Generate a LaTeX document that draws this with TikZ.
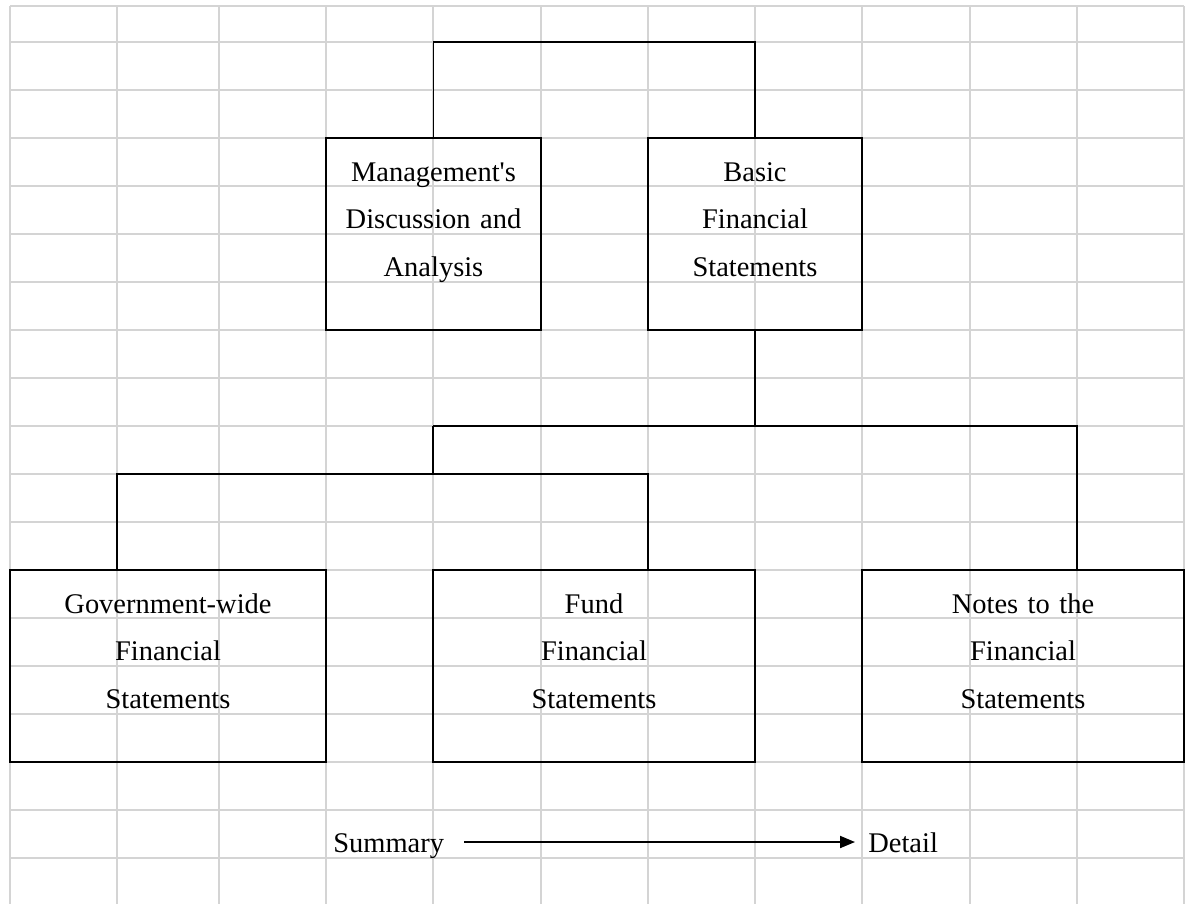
\documentclass[tikz,border=0pt]{standalone}
\usepackage{fontspec}
\setmainfont{Liberation Serif}[Ligatures=TeXOff]
\usetikzlibrary{positioning,arrows.meta,calc}
\definecolor{sheetgray}{RGB}{212,212,212}

\begin{document}
\begin{tikzpicture}[
x=0.02cm,y=-0.02cm,
boxnode/.style={draw,line width=1.1pt,inner sep=0pt,align=center,text height=0.86cm,text depth=2.98cm,font=\fontsize{16.2}{27.2}\selectfont},
gridline/.style={draw=sheetgray,line width=1.1pt},
link/.style={line width=1.1pt},
tag/.style={inner sep=0pt,anchor=base west,text height=0.4cm,text depth=0pt,font=\fontsize{16.2}{27.2}\selectfont},
>={Triangle[length=0.3cm,width=0.24cm]}]
\useasboundingbox (0,0) rectangle (1193,904);
% sheet grid
\foreach \gx in {10,117,219,326,433,541,648,755,862,970,1077,1184}
  \draw[gridline] (\gx,6) -- (\gx,904);
\foreach \gy in {6,42,90,...,858}
  \draw[gridline] (10,\gy) -- (1184,\gy);
% boxes
\node[boxnode,text width=4.3cm] (mda) at (433.5,234) {Management's\\Discussion and\\Analysis};
\node[boxnode,text width=4.28cm] (bfs) at (755,234) {Basic\\Financial\\Statements};
\node[boxnode,text width=6.32cm] (gov) at (168,666) {Government-wide\\Financial\\Statements};
\node[boxnode,text width=6.44cm] (fund) at (594,666) {Fund\\Financial\\Statements};
\node[boxnode,text width=6.44cm] (notes) at (1023,666) {Notes to the\\Financial\\Statements};
% connectors
\coordinate (topbar) at (594,42);
\coordinate (upperbus) at (433,426);
\coordinate (lowerbus) at (433,474);
\draw[link] (mda.north) |- (topbar) -| (bfs.north);
\draw[link] (bfs.south) -- (bfs.south |- upperbus);
\draw[link] (upperbus) -| ($(notes.north)+(54,0)$);
\draw[link] (upperbus) -- (lowerbus);
\draw[link] ($(gov.north)+(-51,0)$) |- (lowerbus) -| ($(fund.north)+(54,0)$);
% summary to detail
\node[tag] (summary) at (333,852) {Summary};
\node[tag] (detail) at (868,852) {Detail};
\draw[link,->,shorten <=0.4cm,shorten >=0.26cm] (summary.east) -- (detail.west);
\end{tikzpicture}
\end{document}
